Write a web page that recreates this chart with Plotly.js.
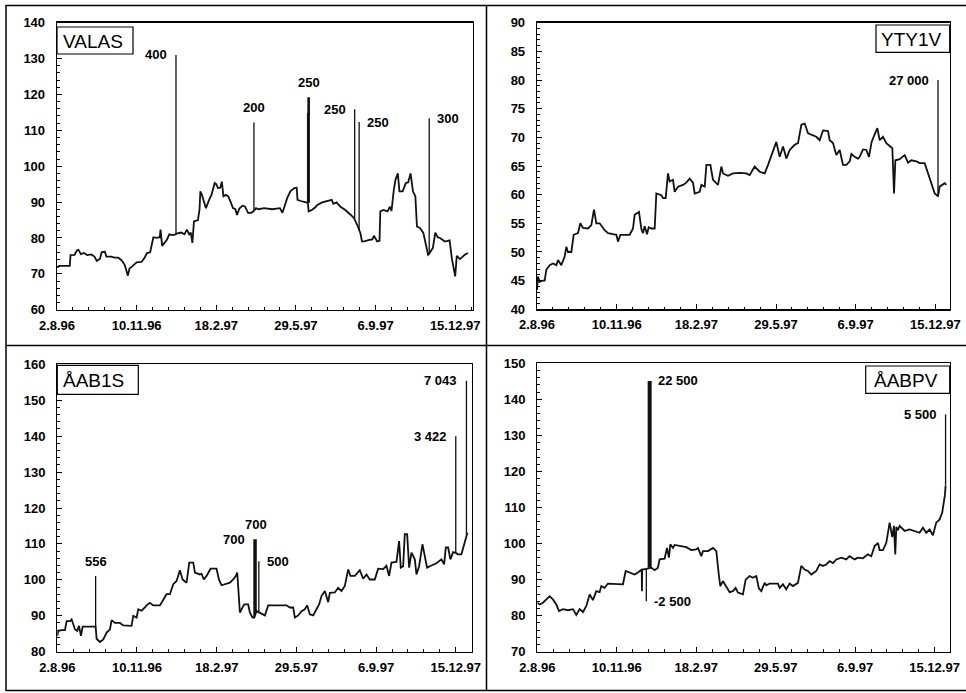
<!DOCTYPE html>
<html>
<head>
<meta charset="utf-8">
<script src="https://cdn.plot.ly/plotly-3.0.1.min.js"></script>
<style>html,body{margin:0;padding:0;background:#fff;}#chart{width:966px;height:693px;}</style>
</head>
<body>
<div id="chart"></div>
<script>
// ---------- shared x axis: days since 2.8.96, labelled every 100 days ----------
const tickDays   = [0, 100, 200, 300, 400, 500];
const tickLabels = ["2.8.96", "10.11.96", "18.2.97", "29.5.97", "6.9.97", "15.12.97"];

// ---------- VALAS ----------
const valasDay   = [0,3,16,17,22,25,27,30,34,38,43,47,50,54,56,60,62,68,72,77,81,85,89,91,94,100,106,110,113,117,121,125,129,130,132,135,138,141,145,149,150,156,160,163,166,168,170,172,177,179,180,182,184,187,191,194,198,200,202,205,207,209,212,215,217,221,224,226,229,233,236,240,244,247,250,253,260,270,280,283,286,289,293,298,301,302,306,309,313,315,316,320,324,327,333,339,345,347,351,356,362,369,373,377,381,383,387,393,396,398,402,405,406,410,415,418,420,423,425,428,430,434,438,441,444,447,450,452,456,460,463,466,467,470,472,475,478,481,485,487,493,496,500,502,506,512,516];
const valasPrice = [71.8,72.2,72.2,75.2,75.3,76.5,76.7,75.5,75.8,75.2,75.4,74.8,73.6,74.2,76,76.2,74.8,74.8,74.5,74.5,73.8,72.5,69.5,71.5,72,73.2,73.3,74.5,75.8,76,80.2,80,80.2,82.3,77.8,78.6,79.5,81,80.8,81,81.2,81.5,81,82.3,81,81.5,78.6,84.6,85,88,93,92,90.6,88.3,90.6,92,95.3,95,93.9,94,95.7,91.6,92,91.6,90.6,88.3,88,86.4,88.2,89,88.8,87,87,87.5,88.3,88,88.3,88,88.3,87,89,91.1,93,93.9,94,90.6,90.3,90.2,90,89.8,87.4,87.8,88.5,89.2,89.9,90.2,90.6,89.5,89.9,88.7,87.8,86.4,85.5,83.6,81.3,79,79.1,79.5,79.6,80.6,79,79.2,87.4,87.8,87.4,88.7,87.5,93.5,96.2,98,93,93,95.3,95.5,98,93,91.6,83.2,82.7,81.4,78.6,75.3,75.5,76.5,77.2,81.5,80.2,80,79.2,79,79.3,74,69.3,75,74.1,75.3,75.8];
const valasSpikeDay  = [149.4, 247.3, 314.8, 316, 373.8, 379.4, 467.4];
const valasSpikeBase = [81, 87.5, 89.8, 89.8, 85.5, 82, 75.5];
const valasSpikeEnd  = [131, 112.2, 114.8, 119.2, 115.9, 112.3, 113.4];
const valasSpikeText = ["400", "200", "", "250", "250", "250", "300"];

// ---------- YTY1V ----------
const ytyDay   = [0,1.3,3.3,6.7,9.6,11.7,15.9,20.1,24.3,26.4,30.5,34.7,36.8,38.9,43.1,46,51.5,54.4,57.7,64,68.2,71.5,74.5,78.7,84.9,89.1,95.4,99.6,101.7,104.6,116.3,120.5,122.6,128,131,133,135.1,138.1,140.2,143.5,147.7,149.8,156.1,158.2,161.5,164.4,166.5,170.7,172.8,177,183.3,187.4,191.6,195.8,197.9,204.2,206.3,210.5,212.6,217.6,220.9,227.2,231.4,233.5,239.7,246,254.4,262.8,266.9,273.2,279.5,285.8,290,294.1,300.4,304.6,308.8,313,317.2,323.4,327.6,331.8,336,340.2,346.4,350.6,354.8,359,365.3,367.4,371.5,375.7,379.9,384.1,388.3,392.5,394.6,398.7,402.9,405,409.2,413.4,416.7,420,424.3,427.2,430.1,434.3,438.5,442.7,446,448.1,449.8,455.2,461.5,465.7,469.9,476.2,480.3,486.6,490.8,495,499.2,503.3,505.4,511.7,513.8];
const ytyPrice = [43.4,45.7,44.8,45,45,46.9,47.7,48,47.7,48.6,47.7,49.2,50.9,50,50,53,53.3,55,54.2,54.1,54.7,57.4,55,55,53.8,53.3,53.1,53,51.8,53,53,54.1,56.5,57,54,53.3,54.5,53.1,54.3,54.1,54.1,60.2,59.9,59.4,59.4,63.7,62.3,62.6,60.5,61.4,61.7,62.1,62.8,62.1,60.2,60.5,61.7,61.4,65.2,65.2,62.6,61.7,64.9,63.7,63.3,63.7,63.8,63.7,63.4,64.9,64,63.7,65.2,66.9,69.2,66.6,68.4,66.3,67.8,68.7,69,72.2,72.4,70.7,70.4,70.1,69.5,71.2,71.1,69.5,69,66.9,67.8,65.2,65.2,65.8,67.1,66.6,66.3,66.6,67.9,67.8,66.6,69.2,70.7,71.6,69.5,70.1,69,68.4,68.1,60.2,66,66.2,66.9,65.6,66,65.8,65.5,65.5,63.7,62,60.2,59.7,61.4,62,61.7];
const ytySpikeDay  = [503.3];
const ytySpikeBase = [59.7];
const ytySpikeEnd  = [80];
const ytySpikeText = ["27 000"];

// ---------- ÅAB1S ----------
const aab1sDay   = [0,1.3,5.4,9.6,11.7,15.9,18,20.1,22.2,25.1,27.2,29.7,31.8,34.7,47.2,48.1,49.3,53.5,57.7,61.9,66.1,68.1,72.3,78.6,82.8,89,93.2,95.3,99.5,101.6,105.8,109.9,112,116.2,120.4,128.8,132.9,137.1,141.3,145.5,149.7,153.8,157.2,162.2,165.6,170.6,172.7,178.9,181,183.9,187.3,192.3,199.8,202.8,206.1,210.3,216.6,220.7,224.1,225.8,227,229.1,231.2,234.5,239.5,241.6,245,247.1,250,254.2,260.5,264.6,287.6,291.8,296,298.1,302.3,306.4,310.6,313.5,316.9,321.1,325.3,328.6,331.5,335.7,339.9,342,348.2,352.4,356.6,360.8,365,367.9,373.3,379.6,383.8,388,392.1,398.4,402.6,408.9,413,416.4,419.3,425.6,428.9,431,434,436,439,441.5,444.4,448.6,450.7,454,458.2,461.1,464,469.5,475.8,482,485.4,487.5,490.4,493.3,496.7,500,502.9,507.1,511.3,514.6];
const aab1sPrice = [84.4,85.8,86,86,88.5,88.5,89,87.6,86.2,85.8,87.2,84.4,87,87,87,87,83.6,82.7,83.4,85.3,86.2,88.8,88,88,87.3,87.3,87.2,90,89.5,91.8,91.4,92.3,92.9,93.6,92.9,92.9,94.6,96,96,98.8,99.7,102.7,100.1,99.2,104.8,104.8,102,101.5,101.7,100.1,101.1,103.1,103.1,100.1,98.5,98.8,99.2,100.1,101.1,102,96.4,90.9,91.8,93.2,93.2,90.9,89.5,89.5,91.3,90.9,90.1,92.9,92.9,92.3,92.3,89.5,90.1,91.3,91.8,92.9,90.4,90.1,91.8,93.2,95.5,96.9,93.8,96.4,96.5,97.8,96.9,98.3,102.9,101.1,101.1,102.7,100.3,101.5,100.1,100.1,103.1,103,103.9,101.1,104.8,105,110.8,103.4,103.8,112.7,112.7,103.4,107.6,105.7,101.5,103.8,109.9,107.1,103.4,104,104.6,105.7,104.3,109,109,105.7,107.7,107.5,107.1,107.1,110.3,113.1];
const aab1sSpikeDay  = [48.1, 247.1, 249.2, 252.9, 500, 513.4];
const aab1sSpikeBase = [87, 89.5, 91, 91, 107.5, 112.5];
const aab1sSpikeEnd  = [101.1, 111.3, 111.3, 105.2, 140, 155.4];
const aab1sSpikeText = ["556", "700", "700", "500", "3 422", "7 043"];

// ---------- ÅABPV ----------
const aabpvDay   = [0,2.9,7.1,11.3,15.5,19.7,23.9,27.3,32.3,38.6,44.9,49.1,53.3,57.5,61.7,65.9,70,74.2,78.4,80.5,84.7,88.9,95.2,107.8,111.2,116.2,122.5,126.7,130.9,131.4,131.7,132,137.2,143.5,147.7,151.8,153.9,160.2,163.2,165.7,167.4,170.7,172.8,179.1,187.5,193.8,200.1,202.2,206.4,208.5,214.8,221.1,225.3,228.6,230.3,233.6,237.8,242,246.2,249.6,252.5,258.8,262.2,267.2,271.4,275.6,278.9,281.9,286.1,288.2,292.4,302.9,305,309.1,313.3,317.5,321.7,328,332.2,336.4,340.6,344.8,351.1,355.3,359.5,363.7,367.9,372.1,376.3,382.6,388.8,393,399.3,403.5,409.8,416.1,420.3,424.5,428.7,430.8,435,439.2,443.4,446.7,448.8,450.5,451.8,453.9,456,462.3,468.5,474.8,481.1,485.3,489.5,493.7,497.9,502.1,506.3,509.6,511.7,513,513.8];
const aabpvPrice = [83.6,83.1,83.6,84.5,85.4,84.5,83.1,81.3,81.8,81.5,81.8,80.2,81.8,81,82.7,85.9,84.3,86.8,86.5,88.2,87.7,88.9,88.9,88.7,92.4,91.9,91.4,92,92.8,92.8,86.8,92.8,93,93.3,92.6,93.3,95.6,95.8,98.8,96.1,99.8,98.8,99.6,99.3,99,98.2,98.4,98.8,96.5,97.9,97.9,98.8,97.9,91,88.2,89.6,88.2,86.5,86.8,87.7,86.4,85.9,90,91,90.5,91,87.5,86.8,89.1,88.4,88.9,88.9,87.7,88.7,87.3,88.9,88.2,89.1,93.8,92.8,92.4,91.4,92.4,94.2,93.8,94.2,95.1,94.6,95.6,96.1,95.6,96.5,95.6,96.1,95.9,97,96.5,99.3,100.2,98.2,98.2,100.2,105.8,101.8,104.9,97,104.6,103.7,104.9,103.5,103.9,103.5,103,104.4,103,103.9,102.3,105.8,106.7,108.6,111,113.5,116];
const aabpvSpikeDay  = [137.2, 141.4, 513.8];
const aabpvSpikeBase = [93, 93.3, 116];
const aabpvSpikeEnd  = [84, 145.1, 135.8];
const aabpvSpikeText = ["-2 500", "22 500", "5 500"];

// ---------- layout (pixels in a 966 x 693 figure) ----------
const W = 966, H = 693;
const FONT = "Liberation Sans, Arial, Helvetica, sans-serif";
const px = v => v / W;
const py = v => 1 - v / H;

const panels = [
  { name: "VALAS", day: valasDay, price: valasPrice,
    sDay: valasSpikeDay, sBase: valasSpikeBase, sEnd: valasSpikeEnd, sText: valasSpikeText,
    side: ["left","above","none","above","left","right","right"], sWidth: [1.3,1.3,1.5,2.6,1.3,1.3,1.3],
    xd: [57, 472.7], yd: [22.7, 309.7], xmax: 522, yr: [60, 140], dt: 10, mdt: 2,
    box: [57, 27, 133, 54], textX: 61 },
  { name: "YTY1V", day: ytyDay, price: ytyPrice,
    sDay: ytySpikeDay, sBase: ytySpikeBase, sEnd: ytySpikeEnd, sText: ytySpikeText,
    side: ["left"], sWidth: [1.3],
    xd: [537, 949.7], yd: [22.7, 309.3], xmax: 518, yr: [40, 90], dt: 5, mdt: 1,
    box: [876, 25, 949.7, 52.3], textX: 878.5 },
  { name: "ÅAB1S", day: aab1sDay, price: aab1sPrice,
    sDay: aab1sSpikeDay, sBase: aab1sSpikeBase, sEnd: aab1sSpikeEnd, sText: aab1sSpikeText,
    side: ["above","left","above","right","left","left"], sWidth: [1.3,1.8,1.8,1.3,1.3,1.3],
    xd: [57.3, 471.7], yd: [364.3, 651.7], xmax: 520, yr: [80, 160], dt: 10, mdt: 2,
    box: [57.3, 365.3, 138.3, 394.3], textX: 61 },
  { name: "ÅABPV", day: aabpvDay, price: aabpvPrice,
    sDay: aabpvSpikeDay, sBase: aabpvSpikeBase, sEnd: aabpvSpikeEnd, sText: aabpvSpikeText,
    side: ["right","right","left"], sWidth: [1.3,4,1.3],
    xd: [537.3, 949.7], yd: [363.3, 651.7], xmax: 519, yr: [70, 150], dt: 10, mdt: 2,
    box: [865.7, 366, 949.7, 393.3], textX: 871.5 }
];

const tickFont = { family: FONT, size: 13, color: "#000", weight: "bold" };
const traces = [];
const layout = {
  width: W, height: H, margin: { l: 0, r: 0, t: 0, b: 0 },
  paper_bgcolor: "#fff", plot_bgcolor: "#fff", showlegend: false,
  shapes: [], annotations: []
};

panels.forEach((p, i) => {
  const n = i === 0 ? "" : String(i + 1);
  const xa = "x" + n, ya = "y" + n;
  layout["xaxis" + n] = {
    domain: [px(p.xd[0]), px(p.xd[1])], range: [0, p.xmax], anchor: ya,
    tickmode: "array", tickvals: tickDays, ticktext: tickLabels,
    ticks: "inside", ticklen: 5, tickwidth: 1, tickcolor: "#000",
    showline: true, mirror: true, linecolor: "#000", linewidth: 1.3,
    showgrid: false, zeroline: false, tickfont: tickFont, ticklabelstandoff: 3,
    minor: { tickmode: "linear", tick0: 0, dtick: 20, ticks: "inside", ticklen: 2.5, tickwidth: 1, tickcolor: "#000", showgrid: false },
    fixedrange: true
  };
  layout["yaxis" + n] = {
    domain: [py(p.yd[1]), py(p.yd[0])], range: p.yr, anchor: xa,
    tickmode: "linear", tick0: p.yr[0], dtick: p.dt,
    ticks: "inside", ticklen: 5, tickwidth: 1, tickcolor: "#000",
    showline: true, mirror: true, linecolor: "#000", linewidth: 1.3,
    showgrid: false, zeroline: false, tickfont: tickFont, ticklabelstandoff: 8,
    minor: { tickmode: "linear", tick0: p.yr[0], dtick: p.mdt, ticks: "inside", ticklen: 3, tickwidth: 1, tickcolor: "#000", showgrid: false },
    fixedrange: true
  };
  traces.push({ x: p.day, y: p.price, xaxis: xa, yaxis: ya, type: "scatter", mode: "lines",
    line: { color: "#111", width: 1.8 }, hoverinfo: "skip" });
  p.sDay.forEach((d, k) => {
    traces.push({ x: [d, d], y: [p.sBase[k], p.sEnd[k]], xaxis: xa, yaxis: ya, type: "scatter",
      mode: "lines", line: { color: "#111", width: p.sWidth[k] }, hoverinfo: "skip" });
    if (!p.sText[k]) return;
    const a = { x: d, y: p.sEnd[k], xref: xa, yref: ya, text: p.sText[k], showarrow: false,
      font: { family: FONT, size: 13, color: "#000", weight: "bold" } };
    if (p.side[k] === "left") { a.xanchor = "right"; a.yanchor = "middle"; a.xshift = -7; }
    else if (p.side[k] === "right") { a.xanchor = "left"; a.yanchor = "middle"; a.xshift = 6; }
    else { a.xanchor = "center"; a.yanchor = "bottom"; a.yshift = 5; }
    layout.annotations.push(a);
  });
  // name box
  layout.shapes.push({ type: "rect", xref: "paper", yref: "paper",
    x0: px(p.box[0]), x1: px(p.box[2]), y0: py(p.box[3]), y1: py(p.box[1]),
    line: { color: "#000", width: 1.2 }, fillcolor: "#fff", layer: "above" });
  layout.annotations.push({ xref: "paper", yref: "paper", x: px(p.textX), y: py((p.box[1] + p.box[3]) / 2 + 0.5),
    xanchor: "left", yanchor: "middle", text: p.name, showarrow: false,
    font: { family: FONT, size: 19, color: "#000" } });
});

// outer frame and dividers
layout.shapes.push(
  { type: "rect", xref: "paper", yref: "paper", x0: px(6), x1: px(975), y0: py(690.5), y1: py(5.5), line: { color: "#000", width: 1.5 } },
  { type: "line", xref: "paper", yref: "paper", x0: px(486.5), x1: px(486.5), y0: py(690.5), y1: py(5.5), line: { color: "#000", width: 1.5 } },
  { type: "line", xref: "paper", yref: "paper", x0: px(6), x1: px(975), y0: py(345.5), y1: py(345.5), line: { color: "#000", width: 1.5 } }
);

Plotly.newPlot("chart", traces, layout, { staticPlot: true, displayModeBar: false });
</script>
</body>
</html>
